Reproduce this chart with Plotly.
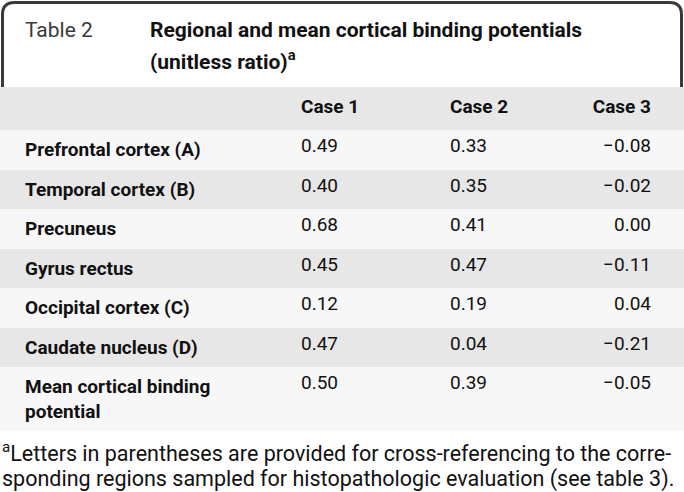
import plotly.graph_objects as go

# ---- data ----
table_label = "Table 2"
title_line1 = "Regional and mean cortical binding potentials"
title_line2 = "(unitless ratio)<sup>a</sup>"
columns = ["Case 1", "Case 2", "Case 3"]
regions = ["Prefrontal cortex (A)", "Temporal cortex (B)", "Precuneus", "Gyrus rectus",
           "Occipital cortex (C)", "Caudate nucleus (D)", "Mean cortical binding<br>potential"]
case1 = [0.49, 0.40, 0.68, 0.45, 0.12, 0.47, 0.50]
case2 = [0.33, 0.35, 0.41, 0.47, 0.19, 0.04, 0.39]
case3 = [-0.08, -0.02, 0.00, -0.11, 0.04, -0.21, -0.05]
footnote_lines = ["<sup>a</sup>Letters in parentheses are provided for cross-referencing to the corre-",
                  "sponding regions sampled for histopathologic evaluation (see table 3)."]

W, H = 684, 492
FONT = "Roboto"
GRAY = "#e7e7e7"
LIGHT = "#f7f7f7"

def fmt(v):
    s = f"{v:.2f}"
    return s.replace("-", "\u2212")

n = len(regions)
row_colors = [LIGHT if i % 2 == 0 else GRAY for i in range(n)]

cells_values = [
    [" "] * n,
    [f"<b>{r}</b>" for r in regions],
    [fmt(v) for v in case1],
    [fmt(v) for v in case2],
    [fmt(v) for v in case3],
    [" "] * n,
]
header_values = [" ", " "] + [f"<b>{c}</b>" for c in columns] + [" "]

table_top = 87
fig = go.Figure()
fig.add_trace(go.Table(
    domain=dict(x=[0, 1], y=[0, 1 - table_top / H]),
    columnwidth=[17, 276, 149, 118, 99, 25],
    header=dict(
        values=header_values,
        fill=dict(color=GRAY),
        line=dict(width=0, color=GRAY),
        align=["left", "left", "left", "left", "right", "left"],
        font=dict(family=FONT, size=19, color="#111"),
        height=43,
    ),
    cells=dict(
        values=cells_values,
        fill=dict(color=[row_colors] * 6),
        line=dict(width=0, color=GRAY),
        align=["left", "left", "left", "left", "right", "left"],
        font=dict(family=FONT, size=19, color="#111"),
        height=39.5,
    ),
))

# invisible pixel axes for decorations
fig.update_xaxes(range=[0, W], visible=False, fixedrange=True)
fig.update_yaxes(range=[H, 0], visible=False, fixedrange=True)

# rounded top border
r = 12
path = (f"M 2.5 {table_top} L 2.5 {2.5 + r} Q 2.5 2.5 {2.5 + r} 2.5 "
        f"L {W - 2.5 - r} 2.5 Q {W - 2.5} 2.5 {W - 2.5} {2.5 + r} L {W - 2.5} {table_top}")
fig.add_shape(type="path", path=path, xref="x", yref="y",
              line=dict(color="#3a3a3a", width=3))

fig.add_annotation(x=23, y=30, xref="x", yref="y", text=table_label, showarrow=False,
                   xanchor="left", yanchor="middle",
                   font=dict(family=FONT, size=21, color="#3a3a3a"))
fig.add_annotation(x=148, y=30, xref="x", yref="y", text=f"<b>{title_line1}</b>", showarrow=False,
                   xanchor="left", yanchor="middle",
                   font=dict(family=FONT, size=21, color="#111"))
fig.add_annotation(x=148, y=60, xref="x", yref="y", text=f"<b>{title_line2}</b>", showarrow=False,
                   xanchor="left", yanchor="middle",
                   font=dict(family=FONT, size=21, color="#111"))
for i, line in enumerate(footnote_lines):
    fig.add_annotation(x=0, y=452 + 27 * i, xref="x", yref="y", text=line, showarrow=False,
                       xanchor="left", yanchor="middle",
                       font=dict(family=FONT, size=21.5, color="#111"))

fig.update_layout(
    width=W, height=H,
    margin=dict(l=0, r=0, t=0, b=0),
    paper_bgcolor="white", plot_bgcolor="rgba(0,0,0,0)",
    showlegend=False,
)
fig.write_html("out.html", config={"displayModeBar": False},
               post_script="document.body.style.margin='0';document.body.style.overflow='hidden';")
